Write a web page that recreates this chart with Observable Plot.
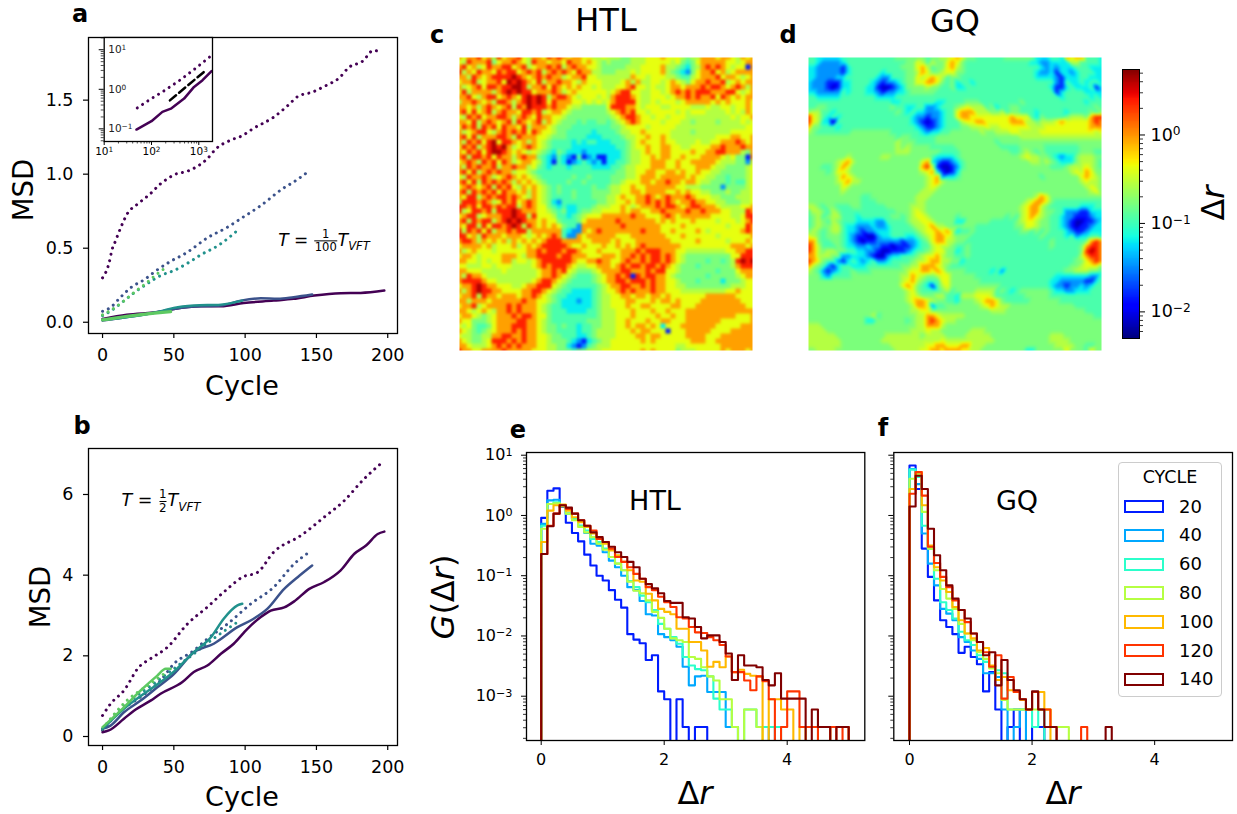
<!DOCTYPE html>
<html><head><meta charset="utf-8">
<script src="https://cdn.jsdelivr.net/npm/d3@7"></script>
<script src="https://cdn.jsdelivr.net/npm/@observablehq/plot@0.6"></script>
<style>
html,body{margin:0;padding:0;background:#fff;width:1237px;height:814px;overflow:hidden;font-family:"DejaVu Sans",sans-serif;color:#000}
#root{position:relative;width:1237px;height:814px}
.p{position:absolute}
.l{position:absolute;white-space:nowrap;transform-origin:center;line-height:1}
svg{display:block;overflow:visible;background:transparent}
.frac{display:inline-block;vertical-align:middle;text-align:center;font-size:.68em;line-height:1.05;font-style:normal;margin:0 1px}
.frac span{display:block}
.frac span:first-child{border-bottom:1px solid #000}
sub{font-size:.68em;line-height:0}
</style></head><body><div id="root"></div>
<script>
// ---- panel a: MSD at T = TVFT/100, [cycle, MSD]
const aDot200=[[0,.30],[4.4,.394],[6.8,.495],[9,.547],[12.6,.635],[17.3,.732],[24.8,.80],[32.6,.86],[40.7,.935],[45.4,.968],[50,.995],[59.5,1.02],[67.7,1.06],[73.5,1.104],[79.4,1.17],[90,1.23],[98,1.26],[106,1.31],[120,1.385],[130,1.464],[137,1.525],[147,1.554],[157,1.6],[166,1.65],[172.6,1.72],[182.4,1.763],[190,1.836],[195,1.824]];
const aDot150=[[0,.074],[5.6,.10],[12.6,.169],[20.8,.241],[29,.286],[38.4,.354],[46.6,.405],[59.5,.473],[73.5,.57],[87.6,.642],[97,.70],[111,.788],[126,.90],[135.6,.957],[143.8,1.014]];
const aDot100=[[0,.045],[5.6,.075],[13.8,.135],[22,.198],[31.4,.26],[40.7,.315],[50,.349],[60.7,.405],[68.9,.455],[81.7,.522],[94.6,.62]];
const aDot50=[[0,.05],[5.6,.08],[13.8,.135],[22,.2],[30,.26],[38.4,.327],[43,.36]];
const aSol200=[[0,.022],[17,.05],[41,.072],[50,.09],[69,.108],[83,.108],[99,.13],[120,.146],[134,.158],[148.5,.18],[167,.196],[181,.198],[197.6,.214]];
const aSol150=[[0,.011],[41,.072],[50,.09],[64,.106],[83,.113],[97,.146],[111,.162],[123,.158],[134,.169],[147,.187]];
const aSol100=[[0,.016],[41,.074],[50,.097],[64,.113],[83,.119],[98,.146]];
const aSol50=[[0,.016],[17,.04],[47.8,.072]];
// ---- inset of a, log-log
const inDot=[[50,.339],[95,.562],[178,.891],[398,1.70],[794,3.16],[1862,7.19]];
const inSol=[[48,.096],[100,.156],[170,.269],[257,.324],[490,.582],[794,1.148],[1202,1.70],[1862,2.88]];
const inDash=[[245,.525],[1413,3.02]];
// ---- panel b: MSD at T = TVFT/2
const bDot200=[[0,.52],[5.6,.81],[15,1.14],[25.5,1.72],[33.7,1.93],[45.4,2.21],[59.5,2.79],[73.5,3.21],[87.6,3.66],[98,3.95],[108.7,4.07],[120,4.57],[139,4.98],[155.5,5.44],[169.6,5.85],[182.4,6.35],[195,6.76]];
const bDot150=[[0,.15],[12.6,.64],[26.7,.98],[40.7,1.39],[50,1.8],[64,2.13],[73.5,2.42],[87.6,2.79],[104,3.29],[120,3.7],[134.4,4.28],[145,4.57]];
const bDot100=[[0,.19],[17,.81],[36,1.31],[50,1.68],[64,2.05],[76,2.38],[87.6,2.67],[97,2.89]];
const bDot50=[[0,.19],[17,.89],[31.4,1.26],[43,1.55]];
const bSol200=[[0,.107],[4.4,.15],[15,.44],[22,.64],[33.7,.89],[40.7,1.06],[56,1.35],[64,1.6],[73.5,1.76],[83,2.05],[92,2.3],[101.6,2.67],[111,2.96],[118,3.12],[127.4,3.2],[134.4,3.35],[145,3.66],[155.5,3.83],[167,4.12],[176.6,4.53],[185,4.74],[193,5.02],[197.6,5.08]];
const bSol150=[[0,.19],[5.6,.27],[15,.6],[26.7,.89],[38.4,1.22],[50,1.55],[64,2.09],[78,2.3],[94.6,2.71],[106,2.92],[115.7,3.17],[127.4,3.66],[136.8,3.95],[147,4.24]];
const bSol100=[[0,.19],[15,.69],[29,1.06],[40.7,1.35],[51,1.64],[64,2.09],[76,2.46],[85,2.92],[94.6,3.25],[98,3.29]];
const bSol50=[[0,.23],[12.6,.64],[26.7,1.14],[38.4,1.51],[44.3,1.68],[47.8,1.68]];
// ---- histograms: log10 G per 0.1 wide bin (-5 = empty bin)
const e20=[-.04,.41,.45,.14,-.12,-.29,-.43,-.65,-.83,-1.0,-1.08,-1.24,-1.40,-1.53,-1.97,-2.06,-2.12,-2.40,-2.32,-2.92,-3.05,-5,-3.05,-3.51,-5,-3.51,-3.51];
const e40=[-.14,.25,.26,.17,.03,-.06,-.17,-.29,-.47,-.50,-.61,-.75,-.86,-1.0,-1.19,-1.24,-1.42,-1.64,-1.66,-1.97,-2.02,-2.07,-2.18,-2.51,-2.82,-2.67,-2.66,-2.93,-2.93,-2.93,-3.51,-3.51,-5,-5,-5,-5,-5,-3.51];
const e60=[-.17,.19,.22,.17,.03,-.06,-.17,-.25,-.39,-.44,-.55,-.69,-.80,-.91,-1.09,-1.19,-1.33,-1.44,-1.57,-1.80,-1.88,-2.02,-2.13,-2.35,-2.49,-2.55,-2.57,-2.67,-3.04,-3.22,-3.22,-3.51,-5,-3.22,-3.22,-3.51,-3.51,-3.51,-3.51];
const e80=[-.22,.19,.20,.15,.03,-.08,-.19,-.28,-.36,-.47,-.57,-.69,-.80,-.91,-1.10,-1.25,-1.29,-1.41,-1.60,-1.70,-1.88,-2.04,-2.07,-2.10,-2.35,-2.38,-2.52,-2.67,-2.74,-3.05,-3.05,-3.51,-5,-3.22,-3.22,-3.51];
const e100=[-.44,.08,.17,.18,.08,-.03,-.11,-.19,-.30,-.39,-.47,-.58,-.66,-.77,-.91,-1.08,-1.10,-1.30,-1.41,-1.55,-1.60,-1.64,-1.88,-1.88,-2.10,-2.10,-2.24,-2.51,-2.43,-2.52,-2.34,-2.60,-2.56,-2.63,-2.66,-2.67,-5,-3.05,-3.05,-3.22,-3.22,-5,-3.51,-5,-5,-5,-5,-3.51,-3.51,-3.51];
const e120=[-.64,-.17,.03,.17,.11,.03,-.08,-.17,-.25,-.39,-.44,-.55,-.69,-.77,-.86,-.97,-1.05,-1.19,-1.24,-1.35,-1.44,-1.52,-1.69,-1.71,-1.85,-1.94,-1.95,-2.02,-2.07,-2.15,-2.34,-2.6,-2.6,-2.74,-2.9,-2.67,-2.75,-3.05,-5,-3.51,-2.92,-2.92,-3.51,-3.51,-3.51,-5,-5,-3.51,-5,-3.51];
const e140=[-.64,-.18,.03,.17,.13,.03,-.08,-.17,-.28,-.36,-.44,-.52,-.61,-.69,-.77,-.86,-1.05,-1.14,-1.21,-1.29,-1.42,-1.45,-1.45,-1.69,-1.71,-1.85,-2.04,-1.99,-1.99,-2.10,-2.29,-2.73,-2.32,-2.49,-2.49,-2.52,-2.73,-2.82,-2.62,-3.04,-3.04,-3.04,-3.04,-5,-3.22,-3.51,-3.51,-5,-3.51,-3.51];
const f20=[.83,.44,-.55,-1.02,-1.41,-1.74,-1.85,-1.97,-2.28,-2.18,-2.35,-2.47,-2.92,-2.6,-3.22,-5,-3.51,-3.22,-5,-5,-3.51,-3.51];
const f40=[.77,.52,-.30,-.80,-1.16,-1.55,-1.63,-1.74,-2.02,-2.10,-2.24,-2.38,-2.62,-2.62,-2.68,-3.22,-5,-3.51,-3.22];
const f60=[.76,.64,-.17,-.55,-1.05,-1.44,-1.57,-1.71,-1.93,-2.07,-2.15,-2.32,-2.43,-2.51,-2.57,-2.62,-3.22,-3.22,-3.22,-3.22,-3.51,-3.22];
const f80=[.61,.69,.06,-.55,-.91,-1.22,-1.38,-1.55,-1.8,-1.96,-2.07,-2.27,-2.38,-2.54,-2.62,-3.06,-3.22,-3.22,-3.22,-3.22,-3.22,-3.22,-3.22,-3.51,-3.51,-3.51];
const f100=[.44,.72,.17,-.5,-.86,-1.08,-1.27,-1.52,-1.74,-1.96,-2.04,-2.24,-2.2,-2.49,-2.73,-2.68,-2.9,-2.93,-3.06,-3.22,-2.93,-2.93,-3.22];
const f120=[.36,.72,.33,-.52,-.79,-1.02,-1.19,-1.41,-1.57,-1.77,-1.96,-2.1,-2.27,-2.51,-2.32,-3.04,-2.68,-2.93,-3.05,-3.22,-2.93,-3.22,-3.22,-3.51,-5,-5,-5,-5,-3.51];
const f140=[.15,.66,.44,-.22,-.66,-.91,-1.16,-1.38,-1.57,-1.71,-1.96,-2.1,-2.32,-2.27,-2.82,-2.40,-2.73,-2.9,-3.05,-3.22,-2.92,-3.22,-3.51,-3.51,-5,-5,-5,-5,-5,-5,-5,-5,-3.51];
const cycleLabels=[20,40,60,80,100,120,140];
const cycleColors=["#001cff","#00a8ff","#2bffcb","#b5ff42","#ffb900","#ff3400","#800000"];
// ---- displacement maps read as a 60x60 grid of colour levels (log10 of Δr per level)
const levelLog={"0":-2.15,"1":-1.84,"2":-1.48,"3":-1.21,"4":-.96,"5":-.78,"6":-.57,"7":-.38,"8":-.05,"9":.36,"a":.62};
const htlRows=[
"8788978697 8897688798 9878877667 6665566677 7877765668 8878876878",
"7698889578 8987698878 8798878765 6555566677 7776754578 8888776788",
"8978679889 9789678898 9689887765 5555666777 7866543568 9898767718",
"9687988798 9978989689 8987988665 5566676777 7865432578 8978678888",
"8869878999 9a98789898 8678897766 6666687767 7766544678 8897887678",
"7889678897 a9a9879688 9887687776 6667868667 7678765788 9889678788",
"8678979989 9aa9688979 8787877676 6677897767 6678878889 8998789868",
"7968888689 a9a9978889 8678777777 6789977667 7678989899 9888997678",
"8897689978 9879a9a968 9987677767 6899987667 7767889898 8979878788",
"6889878699 8689a9a979 8887767676 7899997667 6777678888 8787877787",
"8878689878 9698a99989 8876655555 7999887677 7667777666 7667767787",
"8979789689 8879989678 8765555555 6789897767 7777676777 6666767687",
"7698978899 8689879887 7655555555 5678998776 7767776666 6666676778",
"8879689878 9698789687 6555454455 4567898777 7677766566 6656666767",
"7989698979 8879688876 5554444444 4556777767 7777666666 6666666677",
"8678997689 8989798776 5544444344 4456677877 7776666566 6666677777",
"8979688899 8698887765 5544443334 4445667787 7876666666 6677788778",
"8698979a79 9878687654 4443434433 3444567877 7877666676 6778889878",
"7989689a9a 8678987654 4443333333 3344567787 7887766777 7889888988",
"8798979aa9 8787676543 5433323333 3334566787 7887777877 8899888658",
"8969989798 8689885432 4321412311 3334566778 7887787778 8887675518",
"7898698979 8678876431 4312343231 3344566778 8877877888 8876665527",
"8698988968 8988675434 4434444333 3445667778 8877877788 8766555567",
"8979689898 8677654444 4444444444 4455667788 7788787787 7665555567",
"7698898678 9878765444 4445445444 4555667888 7888887877 6655455567",
"8979698989 8687876544 4454454444 4556777887 8898878876 6555454467",
"7898789698 9768787654 5444444544 5667787788 8888776665 5552555567",
"8969898979 8878687654 5445444555 5667788788 8877878776 6555655667",
"8799689899 8987687654 4445444555 6678778898 7898889877 7665556667",
"6999898679 8978987653 2444444455 6677878898 9898788988 7766555667",
"9989799898 9968987754 3433444566 6778767888 9899878998 8876666778",
"9679989699 9a98887765 4533455667 7778788778 8988889889 8887766698",
"7899678889 9a99697776 4434567778 8888898877 7898788888 8777766799",
"8969899689 a9a9887877 5444578888 8898888888 7878777877 7767776789",
"8799697998 9a96987878 7544288888 8889888888 8777787777 7777677798",
"9698979688 9899688888 8432287898 8888888988 8778777787 6777777898",
"9978698887 8887678789 8422878888 8877788888 8877787777 7767777778",
"8998687878 6878787899 9888877888 8787778888 8887777787 7777677787",
"7888878677 7867878999 9987787778 7787878988 8888877777 7777788878",
"8678777677 7777889899 9899877787 7778889899 9888776666 6666778899",
"7887677778 8876889999 8998887778 8878898989 9898765555 5555577999",
"8877676778 8677678999 9998778898 8778988989 9898765555 4554569a9a",
"7766677677 7666678989 9987667788 8789899899 8987655545 5555568999",
"8877766667 6666667889 8976555678 8889988898 9977655555 5545557888",
"8698876666 6666667889 8765444567 8898919899 8876555555 4555556788",
"8999987766 6666678998 7654444567 8899899989 8877655545 5553555677",
"7889a98877 7667889997 6544444456 7889988989 8877665555 5555566677",
"8689a99887 7778899876 5443333456 7789898889 8877766666 6666778777",
"7889698878 8878898765 4433333456 6778878878 8787777777 8888887777",
"8868887888 8889887765 4333233456 6777887778 7887877778 8888888777",
"7889678888 9898887654 4333333456 6777877887 7778877788 8888888877",
"8876787688 9898887654 4433334456 6677787778 7787778888 8888888888",
"7887656788 8989987754 4444444456 6677787777 8778778888 8888887778",
"8775556788 8899887654 4444445556 6677877787 7887778888 8887777778",
"7675445788 8999887655 4544344556 6677878878 7377788888 8877777888",
"8765456788 8989887655 4444344566 6677787887 7717778888 8777788888",
"7665566889 9889887765 5444334566 6677778878 8777778888 7778888888",
"8765567999 8989887765 5543213456 6777777878 7777777888 7788888888",
"8876667898 9898887766 5532124566 6777777777 7777667777 7778888888",
"9887788889 8888877766 5554556667 7777777878 7777566677 7778788878"];
const gqRows=[
"4433333444 4444444455 5555455667 8755444444 5555553334 4387884443",
"4432222344 4444444444 5576465578 7544444444 4444433223 3336644443",
"3322222134 4444444445 5578645578 6544444444 4444444323 2333444333",
"3322222134 4444434444 5568755677 5544444444 4444443223 1332344433",
"3322223344 4444322444 5576787645 5444444444 4444443333 2133344333",
"3222111334 4443212234 5577887545 3443444444 4444444444 2143343443",
"3222101334 4433100123 5555655445 3344444444 4444444443 1134333413",
"3322222434 4433212233 4555554444 4444444444 4444444444 1344443333",
"4433333444 4444333344 4444444444 4444444444 4444444444 4344444343",
"4444444444 4444444334 4444443344 4455544444 4445444444 4444443444",
"4455444444 4444444544 3344223444 5676664534 4554444444 4444444454",
"5664434444 4444444454 3433222344 7888666556 4554443444 4434444545",
"9764343444 4444444444 4322122344 7887777777 7877743544 4456665899",
"9763304444 4444444444 4321012344 4677887777 7888665666 7877777898",
"8554443444 4444444444 4432112344 4556667667 7777766677 7777777888",
"6544444445 5555555444 4443233445 5555565566 6776666777 7777777767",
"5555555555 5555555545 5444445555 5555555555 5556666666 6666666666",
"5555555555 5555555565 5544445555 5555555545 5555555555 5555555555",
"5555555555 5555555565 6555544444 5555555554 4445555544 4444455555",
"5555555555 5555555566 6555555444 4555555555 5445654544 4444455544",
"5555555565 5555566555 5555543333 4555555555 5556766554 3233566655",
"5555556786 5555555555 5557832112 3455555555 5555566565 4333566654",
"5554456875 5555555555 5558961001 2455555555 5555555554 4456667654",
"5555457765 5555555555 5556783101 3555555555 5555555555 5556768755",
"5555556876 5555555555 5555678233 4555555555 5555555455 5555578765",
"5555556786 6555555555 5555678655 5555555555 5555555555 5555567665",
"5555555765 5555555555 5555676555 5555555555 5555555555 5555556765",
"5555555655 5555555555 5556665555 5555555555 5555555555 5555555675",
"5555555555 5445555555 5566655555 5555555555 5555556875 5555555555",
"5555555555 5444555555 5566555555 5555555555 5555678875 4444444444",
"6654554445 5444445555 5666555555 5555555555 5556788654 4444433344",
"4665465444 4444444455 5676555555 5555555555 5556788655 4422211333",
"4564566444 3444444554 5677655555 4555555555 4546787654 4322111233",
"4565465444 3333224444 5667765555 3355555444 4456776554 4321001123",
"4565566433 2223223444 4566786655 5555444444 4455776554 4321011233",
"5654566433 2122333444 4456778786 3445444444 4445545454 4432112333",
"7654555432 1100233444 3345678876 5554444444 4444444544 4434233443",
"8854455432 1011222221 2234578866 5544444444 4444444445 4444445898",
"9864445433 2232211011 1234467665 4454444444 4444444445 4444458998",
"9865665544 3322100111 2344567755 3454444444 4444444444 4444459a98",
"8866655223 3321002334 4456778655 4454444444 4444444444 4444468998",
"9875442134 3234223444 4566788665 5344444444 4444444444 4444557898",
"8654213443 3344444445 5668887654 4444444444 4444444444 4445567775",
"6542123445 4445555555 6778878755 5544444342 4444444444 4455666554",
"5553244445 5555555556 6876556775 5555444444 4444444444 3333333224",
"5555555555 5555555556 7865444775 5555544444 4444444443 3222221134",
"5555555555 5555555557 8754314675 5555555554 4444444443 2212232344",
"5555555555 5555555555 6754444564 5555666645 4345555554 3322333444",
"5555555555 5555555555 6765556644 3666777644 4444555554 4444444444",
"5555555555 5555555555 6788765544 3555678875 4444455555 5444444444",
"5555555555 5555555555 5688724455 5555567876 6555555555 5555444444",
"5555555555 5555555555 5667755555 5555555666 5555555555 5555554444",
"5555555555 5556455555 5566887666 6655555555 5555555555 5555555544",
"5555555555 5533555555 4566898766 5555555555 5555555555 5555555555",
"6665555555 5555555555 5566888655 5555555555 5555555555 5555555555",
"6666555555 5555555555 5666766555 5556665555 5555555555 5555555555",
"6666665555 5555556666 6665666655 5566666555 5555555556 6655555555",
"6666666555 5555566666 6666666766 6666666655 5555555556 6665555555",
"6666666555 5555555666 6666778877 7886665555 5555555555 6666554455",
"5566665555 5555555566 6667788788 8776655555 5555335555 5575554755"];
const decades=[10,1,.1,.01,.001];
const minorLog=[.9,.8,.7,.6,.5,.4,.3,.2].flatMap(m=>[10,1,.1,.01,.001].map(d=>m*d));

// jet colormap as the library interpolator
function jet(t){
  const seg=(xs,ys)=>d3.scaleLinear().domain(xs).range(ys).clamp(true)(t);
  const r=seg([0,.35,.66,.89,1],[0,0,1,1,.5]);
  const g=seg([0,.125,.375,.64,.91,1],[0,0,1,1,0,0]);
  const b=seg([0,.11,.34,.65,1],[.5,1,1,0,0]);
  return `rgb(${r*255|0},${g*255|0},${b*255|0})`;
}
const colorOpt={type:"linear",domain:[-2.3,.74],interpolate:jet};
const FONT={fontFamily:"'DejaVu Sans',sans-serif",background:"transparent",overflow:"visible"};
const root=document.getElementById("root");
function fixSup(svg){
  svg.querySelectorAll("text").forEach(t=>{
    const m=/^10\^(.+)$/.exec(t.textContent);
    if(!m)return;
    t.textContent="10";
    const s=document.createElementNS("http://www.w3.org/2000/svg","tspan");
    s.setAttribute("dy","-0.42em");s.setAttribute("font-size","0.7em");
    s.textContent=m[1].replace("-","\u2212");
    t.appendChild(s);
  });
}
function put(el,left,top){fixSup(el);const d=document.createElement("div");d.className="p";d.style.left=left+"px";d.style.top=top+"px";d.appendChild(el);root.appendChild(d);}
function label(html,x,y,size,opts={}){
  const d=document.createElement("div");d.className="l";d.innerHTML=html;
  d.style.left=x+"px";d.style.top=y+"px";d.style.fontSize=size+"px";
  if(opts.bold)d.style.fontWeight="bold";
  d.style.transform=`translate(-50%,-50%)${opts.rot?` rotate(${opts.rot}deg)`:""}`;
  root.appendChild(d);
}
const px=d=>d[0],py=d=>d[1];
const VIR={200:"#440154",150:"#3b528b",100:"#21918c",50:"#5ec962"};
const DOT={strokeWidth:3,strokeDasharray:"0.01,6.3",strokeLinecap:"round"};
function msd(series,yDomain,yTicks,yFmt,mt,mb,h){
  const marks=[
    ...series.filter(s=>s.dot).map(s=>Plot.line(s.d,{x:px,y:py,stroke:VIR[s.c],curve:"monotone-x",...DOT})),
    ...series.filter(s=>!s.dot).map(s=>Plot.line(s.d,{x:px,y:py,stroke:VIR[s.c],curve:"monotone-x",strokeWidth:s.w||2.5})),
    Plot.frame({stroke:"#000",strokeWidth:1.3}),
    Plot.axisX({ticks:[0,50,100,150,200],tickFormat:d=>d,label:null,tickSize:5,tickPadding:10,fontSize:17.5,stroke:"#000",strokeWidth:1.2}),
    Plot.axisY({ticks:yTicks,tickFormat:yFmt,label:null,tickSize:5,tickPadding:10,fontSize:17.5,stroke:"#000",strokeWidth:1.2})
  ];
  return Plot.plot({width:410,height:h,marginLeft:88,marginRight:13,marginTop:mt,marginBottom:mb,style:FONT,
    x:{domain:[-9.85,206.85]},y:{domain:yDomain},marks});
}
put(msd([{d:aDot200,c:200,dot:1},{d:aDot150,c:150,dot:1},{d:aDot100,c:100,dot:1},{d:aDot50,c:50,dot:1},
  {d:aSol200,c:200},{d:aSol150,c:150},{d:aSol100,c:100},{d:aSol50,c:50,w:3.2}],[-.076,1.923],[0,.5,1,1.5],d3.format(".1f"),37,72,405),0,0);
put(msd([{d:bDot200,c:200,dot:1},{d:bDot150,c:150,dot:1},{d:bDot100,c:100,dot:1},{d:bDot50,c:50,dot:1},
  {d:bSol200,c:200},{d:bSol150,c:150},{d:bSol100,c:100},{d:bSol50,c:50}],[-.223,7.14],[0,2,4,6],d3.format("d"),38,64,399),0,410);

// inset
const pow=d=>"10^"+Math.round(Math.log10(d));
const inXMajor=[10,100,1000],inYMajor=[10,1,.1];
const inXMinor=[20,30,40,50,60,70,80,90,200,300,400,500,600,700,800,900];
const inYMinor=[20,9,8,7,6,5,4,3,2,.9,.8,.7,.6,.5,.4,.3,.2,.09,.08,.07,.06,.05];
put(Plot.plot({width:130,height:135,marginLeft:13.7,marginRight:8,marginTop:7,marginBottom:24,style:FONT,
  x:{type:"log",domain:[10,1950]},y:{type:"log",domain:[.0479,20.4]},
  marks:[
    Plot.frame({fill:"#fff"}),
    Plot.line(inDot,{x:px,y:py,stroke:VIR[200],...DOT}),
    Plot.line(inSol,{x:px,y:py,stroke:VIR[200],strokeWidth:2.5}),
    Plot.line(inDash,{x:px,y:py,stroke:"#000",strokeWidth:2.5,strokeDasharray:"8,4"}),
    Plot.frame({stroke:"#000",strokeWidth:1.3}),
    Plot.axisX({ticks:inXMajor,tickFormat:pow,label:null,tickSize:4,tickPadding:2,fontSize:10.5,stroke:"#000"}),
    Plot.axisX({ticks:inXMinor,tickFormat:()=>"",label:null,tickSize:2.5,stroke:"#000",strokeWidth:.7}),
    Plot.axisY({ticks:inYMajor,tickFormat:()=>"",label:null,tickSize:5,stroke:"#000"}),
    Plot.axisY({ticks:inYMinor,tickFormat:()=>"",label:null,tickSize:3,stroke:"#000",strokeWidth:.7}),
    Plot.text(inYMajor,{x:10,y:d=>d,text:pow,dx:4,textAnchor:"start",fontSize:10.5,fill:"#222"})
  ]}),90,30);

// heat maps
function heat(rows,interpolate,blur){
  const cells=rows.flatMap((r,j)=>Array.from(r.replace(/ /g,""),(c,i)=>({i,j,v:levelLog[c]})));
  return Plot.plot({width:293,height:293,margin:0,style:FONT,
    x:{domain:[0,59],axis:null},y:{domain:[0,59],reverse:true,axis:null},color:colorOpt,
    marks:[Plot.raster(cells,{x:"i",y:"j",fill:"v",interpolate,blur,pixelSize:1})]});
}
put(heat(htlRows,"nearest",.8),459,57);
put(heat(gqRows,"barycentric",.6),808,57);

// colour bar
const ramp=d3.range(-2.302,.74,.01);
const cbMinor=[.006,.007,.008,.009,.02,.03,.04,.05,.06,.07,.08,.09,.2,.3,.4,.5,.6,.7,.8,.9,2,3,4,5];
put(Plot.plot({width:137,height:300,marginLeft:22,marginRight:98,marginTop:19,marginBottom:12,style:FONT,
  x:{domain:[0,1],axis:null},y:{type:"log",domain:[.005,5.5]},color:colorOpt,
  marks:[
    Plot.rect(ramp,{x1:0,x2:1,y1:d=>10**d,y2:d=>10**Math.min(d+.012,.7404),fill:d=>d,shapeRendering:"crispEdges"}),
    Plot.frame({stroke:"#000",strokeWidth:1}),
    Plot.axisY({anchor:"right",ticks:[1,.1,.01],tickFormat:pow,label:null,tickSize:5,tickPadding:6,fontSize:17.5,stroke:"#000"}),
    Plot.axisY({anchor:"right",ticks:cbMinor,tickFormat:()=>"",label:null,tickSize:3,stroke:"#000",strokeWidth:.8})
  ]}),1100,50);

// histograms
function steps(arr){
  return [{x:0,y:1e-5},...arr.map((v,i)=>({x:i*.1,y:10**v})),{x:arr.length*.1,y:1e-5}];
}
function hist(series,xDomain,ml,mr,w,labels){
  return Plot.plot({width:w,height:400,marginLeft:ml,marginRight:mr,marginTop:42,marginBottom:70,style:FONT,
    x:{domain:xDomain},y:{type:"log",domain:[10**-3.735,10**1.045]},
    marks:[
      ...series.map((a,k)=>Plot.line(steps(a),{x:"x",y:"y",stroke:cycleColors[k],strokeWidth:2.1,curve:"step-after",clip:true})),
      Plot.frame({stroke:"#000",strokeWidth:1.3}),
      Plot.axisX({ticks:[0,2,4],tickFormat:d=>d,label:null,tickSize:5,tickPadding:8,fontSize:16,stroke:"#000"}),
      Plot.axisY({ticks:decades,tickFormat:labels?pow:()=>"",label:null,tickSize:5,tickPadding:9,fontSize:16,stroke:"#000"}),
      Plot.axisY({ticks:minorLog,tickFormat:()=>"",label:null,tickSize:3,stroke:"#000",strokeWidth:.8})
    ]});
}
put(hist([e20,e40,e60,e80,e100,e120,e140],[-.239,5.262],96,15.7,450,true),430,410);
put(hist([f20,f40,f60,f80,f100,f120,f140],[-.256,5.27],13.3,5,357,false),880,410);

// text
const bT=`<i>T</i>`;
label("a",80,14,24,{bold:1});label("b",82,426,24,{bold:1});
label("c",437,35,24,{bold:1});label("d",788,35,24,{bold:1});
label("e",518,430,24,{bold:1});label("f",883,428,24,{bold:1});
label("MSD",24,190,27.5,{rot:-90});label("MSD",41,597,27.5,{rot:-90});
label("Cycle",242,385,27);label("Cycle",242,796,27);
label("HTL",606,20,32);label("GQ",955,21,32);
label("HTL",655,500,27);label("GQ",1017,500,27);
label("Δ<i>r</i>",695,793,32);label("Δ<i>r</i>",1063,793,32);
label("<i>G</i>(Δ<i>r</i>)",443,597,32,{rot:-90});
label("Δ<i>r</i>",1213,203,32,{rot:-90});
label(`${bT} = <span class="frac"><span>1</span><span>100</span></span>${bT}<sub><i>VFT</i></sub>`,324,241,17);
label(`${bT} = <span class="frac"><span>1</span><span>2</span></span>${bT}<sub><i>VFT</i></sub>`,161,501,17.5);

// legend
const lg=document.createElement("div");
lg.style.cssText="position:absolute;left:1117.5px;top:461.5px;width:102px;height:233px;border:1.3px solid #ccc;border-radius:4px;background:rgba(255,255,255,.8)";
root.appendChild(lg);
label("CYCLE",1170,477.5,17.5);
cycleLabels.forEach((c,i)=>{
  const y=500+i*28.8;
  const s=document.createElement("div");
  s.style.cssText=`position:absolute;left:1124px;top:${y}px;width:35.6px;height:9.4px;border:2px solid ${cycleColors[i]}`;
  root.appendChild(s);
  const t=document.createElement("div");t.className="l";t.textContent=c;
  t.style.cssText=`left:1179px;top:${y+6.5}px;font-size:18px;transform:translateY(-50%)`;
  root.appendChild(t);
});
</script></body></html>
